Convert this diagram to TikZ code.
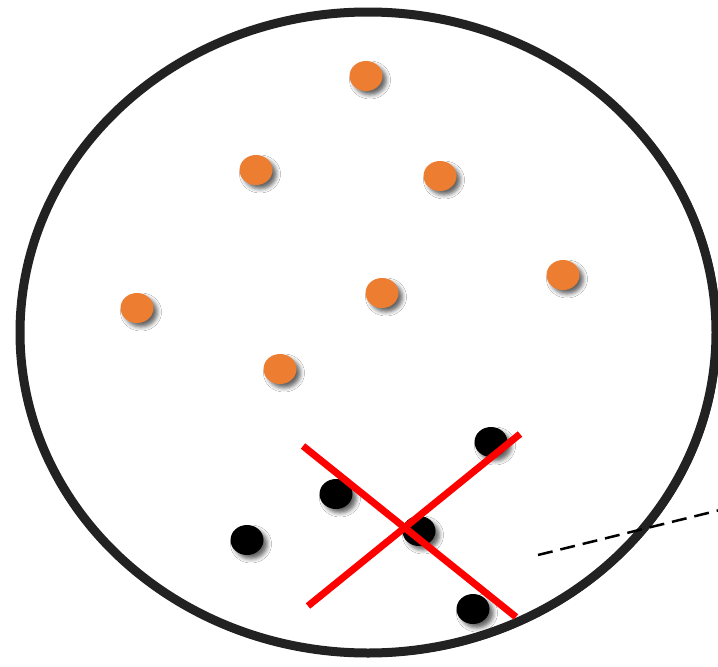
\documentclass[tikz,border=0pt]{standalone}
\usetikzlibrary{shapes.geometric,shadows.blur}
\definecolor{dotorange}{HTML}{ED7D31}
\definecolor{rim}{HTML}{222222}
\tikzset{
  dotbase/.style={ellipse, minimum width=33pt, minimum height=30pt, inner sep=0pt,
    blur shadow={shadow xshift=4pt, shadow yshift=-4pt, shadow blur radius=4pt, shadow opacity=60}},
  odot/.style={dotbase, fill=dotorange},
  bdot/.style={dotbase, fill=black},
  crossline/.style={red, line width=7pt},
  rimline/.style={rim, line width=9pt},
  dashline/.style={black, line width=2.5pt, dash pattern=on 15pt off 8pt}
}
\begin{document}
\begin{tikzpicture}[x=1pt,y=-1pt]
\useasboundingbox (0,0) rectangle (718,667);
\fill[white] (0,0) rectangle (718,667);
% rough circle
\draw[rimline] (368,332.5) ellipse [x radius=348, y radius=320.5];
\draw[rim, line width=2pt] (368.5,333) ellipse [x radius=351, y radius=323];
% orange dots
\node[odot] (o1) at (366,76) {};
\node[odot] (o2) at (256,170) {};
\node[odot] (o3) at (440,176) {};
\node[odot] (o4) at (563,275) {};
\node[odot] (o5) at (137,308) {};
\node[odot] (o6) at (382,293) {};
\node[odot] (o7) at (280,369) {};
% black dots
\node[bdot] (b1) at (491,442) {};
\node[bdot] (b2) at (336,494) {};
\node[bdot] (b3) at (247,540) {};
\node[bdot] (b4) at (419,531) {};
\node[bdot] (b5) at (473,609) {};
% red cross
\coordinate (x1a) at (303,446);
\coordinate (x1b) at (516,617);
\coordinate (x2a) at (308,606);
\coordinate (x2b) at (520,434);
\draw[crossline] (x1a) -- (x1b);
\draw[crossline] (x2a) -- (x2b);
% dashed line
\coordinate (d1) at (538,555);
\coordinate (d2) at (720,510);
\draw[dashline] (d1) -- (d2);
\end{tikzpicture}
\end{document}
